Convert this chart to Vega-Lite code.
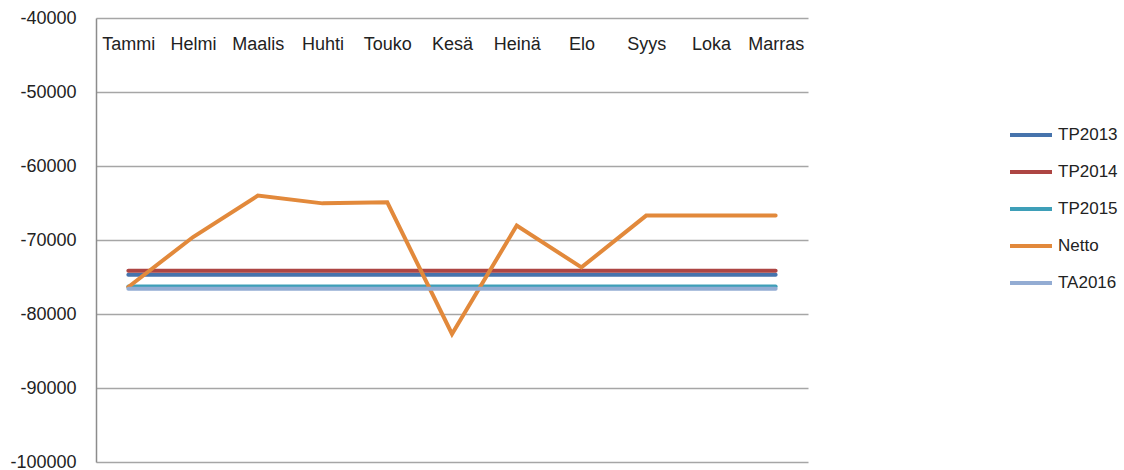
{
  "$schema": "https://vega.github.io/schema/vega-lite/v6.json",
  "width": 712,
  "height": 444,
  "autosize": {"type": "none"},
  "padding": {"left": 96, "top": 18, "right": 316, "bottom": 8},
  "background": "white",
  "config": {
    "view": {"stroke": null},
    "font": "Liberation Sans"
  },
  "data": {
    "values": [
      {"kk": "Tammi", "s": "TP2013", "v": -74700}, {"kk": "Helmi", "s": "TP2013", "v": -74700}, {"kk": "Maalis", "s": "TP2013", "v": -74700}, {"kk": "Huhti", "s": "TP2013", "v": -74700}, {"kk": "Touko", "s": "TP2013", "v": -74700}, {"kk": "Kesä", "s": "TP2013", "v": -74700}, {"kk": "Heinä", "s": "TP2013", "v": -74700}, {"kk": "Elo", "s": "TP2013", "v": -74700}, {"kk": "Syys", "s": "TP2013", "v": -74700}, {"kk": "Loka", "s": "TP2013", "v": -74700}, {"kk": "Marras", "s": "TP2013", "v": -74700},
      {"kk": "Tammi", "s": "TP2014", "v": -74150}, {"kk": "Helmi", "s": "TP2014", "v": -74150}, {"kk": "Maalis", "s": "TP2014", "v": -74150}, {"kk": "Huhti", "s": "TP2014", "v": -74150}, {"kk": "Touko", "s": "TP2014", "v": -74150}, {"kk": "Kesä", "s": "TP2014", "v": -74150}, {"kk": "Heinä", "s": "TP2014", "v": -74150}, {"kk": "Elo", "s": "TP2014", "v": -74150}, {"kk": "Syys", "s": "TP2014", "v": -74150}, {"kk": "Loka", "s": "TP2014", "v": -74150}, {"kk": "Marras", "s": "TP2014", "v": -74150},
      {"kk": "Tammi", "s": "TP2015", "v": -76300}, {"kk": "Helmi", "s": "TP2015", "v": -76300}, {"kk": "Maalis", "s": "TP2015", "v": -76300}, {"kk": "Huhti", "s": "TP2015", "v": -76300}, {"kk": "Touko", "s": "TP2015", "v": -76300}, {"kk": "Kesä", "s": "TP2015", "v": -76300}, {"kk": "Heinä", "s": "TP2015", "v": -76300}, {"kk": "Elo", "s": "TP2015", "v": -76300}, {"kk": "Syys", "s": "TP2015", "v": -76300}, {"kk": "Loka", "s": "TP2015", "v": -76300}, {"kk": "Marras", "s": "TP2015", "v": -76300},
      {"kk": "Tammi", "s": "Netto", "v": -76350}, {"kk": "Helmi", "s": "Netto", "v": -69600}, {"kk": "Maalis", "s": "Netto", "v": -64000}, {"kk": "Huhti", "s": "Netto", "v": -65050}, {"kk": "Touko", "s": "Netto", "v": -64900}, {"kk": "Kesä", "s": "Netto", "v": -82700}, {"kk": "Heinä", "s": "Netto", "v": -68050}, {"kk": "Elo", "s": "Netto", "v": -73700}, {"kk": "Syys", "s": "Netto", "v": -66700}, {"kk": "Loka", "s": "Netto", "v": -66700}, {"kk": "Marras", "s": "Netto", "v": -66700},
      {"kk": "Tammi", "s": "TA2016", "v": -76580}, {"kk": "Helmi", "s": "TA2016", "v": -76580}, {"kk": "Maalis", "s": "TA2016", "v": -76580}, {"kk": "Huhti", "s": "TA2016", "v": -76580}, {"kk": "Touko", "s": "TA2016", "v": -76580}, {"kk": "Kesä", "s": "TA2016", "v": -76580}, {"kk": "Heinä", "s": "TA2016", "v": -76580}, {"kk": "Elo", "s": "TA2016", "v": -76580}, {"kk": "Syys", "s": "TA2016", "v": -76580}, {"kk": "Loka", "s": "TA2016", "v": -76580}, {"kk": "Marras", "s": "TA2016", "v": -76580}
    ]
  },
  "mark": {"type": "line", "strokeWidth": 4, "strokeCap": "round"},
  "encoding": {
    "x": {
      "field": "kk", "type": "nominal", "sort": null,
      "scale": {"type": "point", "padding": 0.5},
      "axis": {
        "orient": "top", "title": null, "domain": false, "ticks": false, "grid": false,
        "labelAngle": 0, "labelPadding": -35, "labelFontSize": 18, "labelColor": "#222222"
      }
    },
    "y": {
      "field": "v", "type": "quantitative",
      "scale": {"domain": [-100000, -40000], "zero": false, "nice": false},
      "axis": {
        "title": null, "values": [-100000, -90000, -80000, -70000, -60000, -50000, -40000],
        "labelExpr": "'-' + format(abs(datum.value), 'd')",
        "ticks": false, "labelPadding": 20, "labelFontSize": 18, "labelColor": "#222222",
        "domain": true, "domainColor": "#8c8c8c", "domainWidth": 1.5,
        "grid": true, "gridColor": "#a6a6a6", "gridWidth": 1.3
      }
    },
    "color": {
      "field": "s", "type": "nominal",
      "scale": {"domain": ["TP2013", "TP2014", "TP2015", "Netto", "TA2016"],
                "range": ["#4673AC", "#AD4543", "#3E9FB8", "#E2893B", "#93ACD3"]},
      "legend": {
        "title": null, "orient": "none", "legendX": 912, "legendY": 94,
        "symbolType": "stroke", "symbolSize": 1764, "symbolStrokeWidth": 4,
        "labelFontSize": 17, "labelColor": "#222222", "labelOffset": 4, "rowPadding": 6
      }
    }
  }
}
